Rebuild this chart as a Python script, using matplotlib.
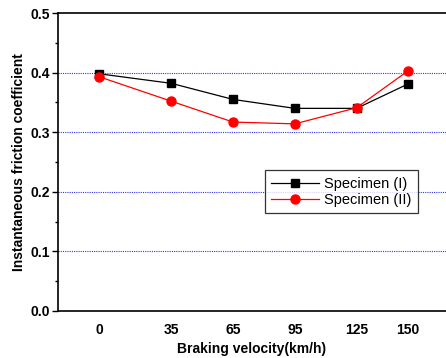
import matplotlib
matplotlib.use("Agg")
import matplotlib.pyplot as plt
from matplotlib.ticker import MultipleLocator

plt.rcParams['font.family'] = ['Liberation Sans', 'DejaVu Sans']

velocity = [0, 35, 65, 95, 125, 150]
spec_1 = [0.398, 0.382, 0.355, 0.340, 0.340, 0.381]
spec_2 = [0.393, 0.352, 0.317, 0.314, 0.341, 0.403]

fig = plt.figure(figsize=(4.46, 3.58), dpi=100)
ax = fig.add_axes([58/446, 47/358, 388/446, 298/358])

for yv in [0.1, 0.2, 0.3, 0.4]:
    ax.axhline(yv, color='#3333ee', ls=(0, (1, 1)), lw=0.8, zorder=0)

ax.plot(velocity, spec_1, color='black', marker='s', ms=6, lw=0.9, label='Specimen (I)')
ax.plot(velocity, spec_2, color='red', marker='o', ms=6.5, lw=0.9, label='Specimen (II)')

ax.set_xlim(-20, 168.4)
ax.set_ylim(0, 0.5)
ax.set_xticks(velocity)
ax.set_xticklabels([str(v) for v in velocity], fontweight='bold', fontsize=10)
ax.yaxis.set_minor_locator(MultipleLocator(0.05))
ax.set_yticks([0, 0.1, 0.2, 0.3, 0.4, 0.5])
ax.set_yticklabels(['0.0', '0.1', '0.2', '0.3', '0.4', '0.5'], fontweight='bold', fontsize=10)
ax.tick_params(axis='x', length=0, pad=9)
ax.tick_params(axis='y', which='major', length=4, width=1, direction='out', pad=2)
ax.tick_params(axis='y', which='minor', length=2.5, width=1, direction='out')
ax.spines['right'].set_visible(False)
for s in ['left', 'top', 'bottom']:
    ax.spines[s].set_linewidth(1.2)

ax.set_xlabel('Braking velocity(km/h)', fontweight='bold', fontsize=10, labelpad=3)
ax.set_ylabel('Instantaneous friction coefficient', fontweight='bold', fontsize=10, labelpad=3)

leg = ax.legend(loc='upper left', bbox_to_anchor=(0.533, 0.473), fontsize=10.5, frameon=True,
                fancybox=False, edgecolor='black', handlelength=3.3, borderpad=0.45,
                labelspacing=0.15, handletextpad=0.3, borderaxespad=0)
leg.get_frame().set_linewidth(0.9)

fig.savefig('out.png', dpi=100)
